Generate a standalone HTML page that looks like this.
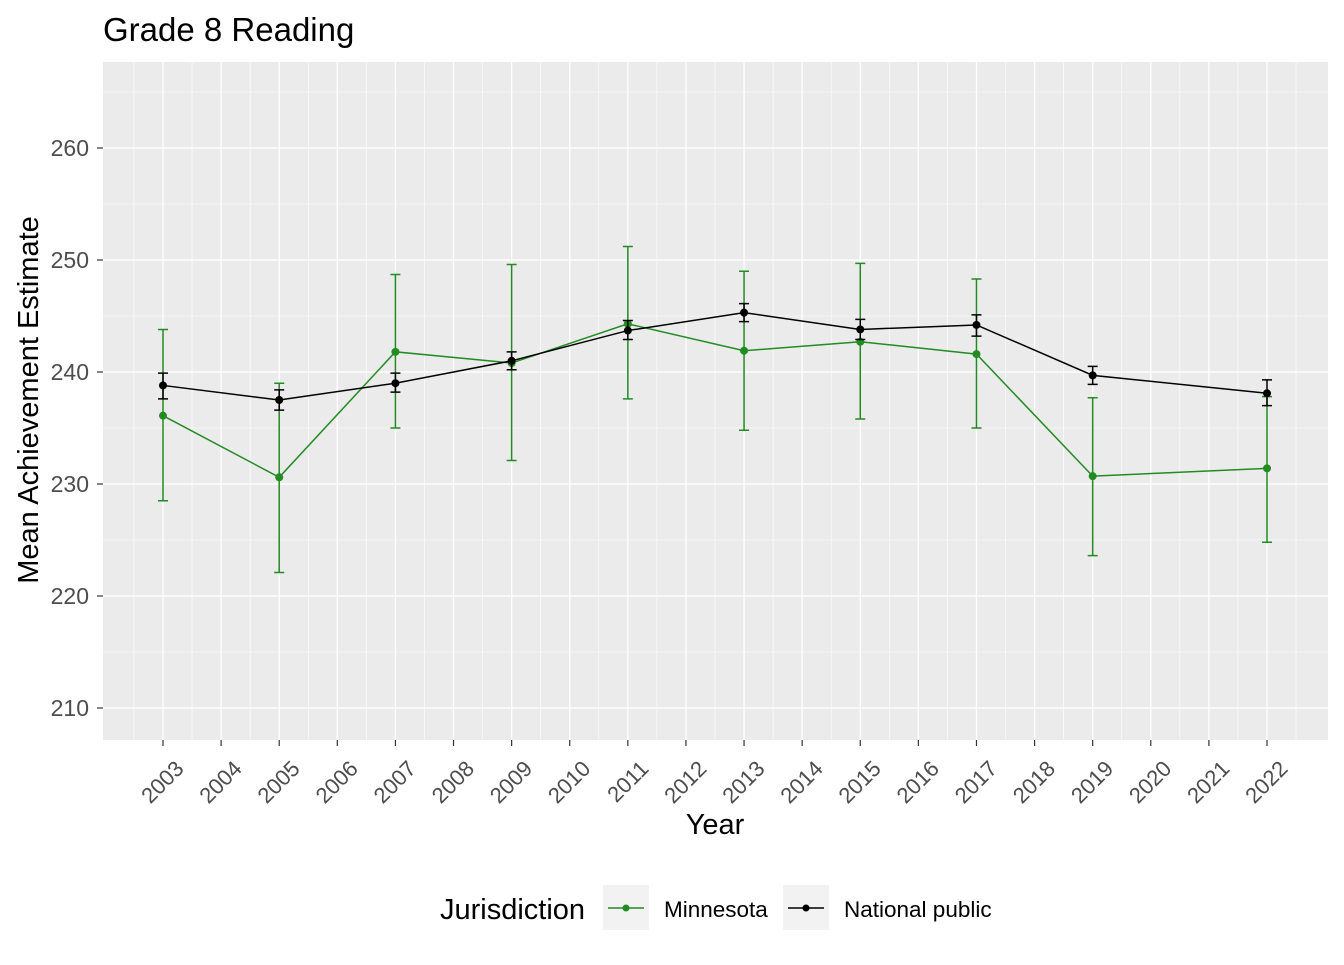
<!DOCTYPE html>
<html><head><meta charset="utf-8"><style>
body{margin:0;background:#fff;font-family:"Liberation Sans",Arial,sans-serif}
</style></head><body>
<svg id="chart" width="1344" height="960" xmlns="http://www.w3.org/2000/svg">
<text x="103" y="41" font-size="33" fill="#000">Grade 8 Reading</text>
<rect x="103" y="62" width="1225" height="678" fill="#EBEBEB"/>
<g id="grid"></g><g id="axes"></g><g id="series"></g>
<text x="715" y="834" font-size="29" text-anchor="middle">Year</text>
<text transform="translate(38,400) rotate(-90)" font-size="29" text-anchor="middle">Mean Achievement Estimate</text>
<g>
<text x="440" y="919" font-size="29">Jurisdiction</text>
<g>
<rect x="603" y="885" width="46" height="45" fill="#F2F2F2"/>
<line x1="608" y1="908" x2="644" y2="908" stroke="#228B22" stroke-width="1.5"/>
<circle cx="626" cy="908" r="3.5" fill="#228B22"/>
<text x="664" y="917" font-size="22.5">Minnesota</text></g>
<g>
<rect x="783" y="885" width="46" height="45" fill="#F2F2F2"/>
<line x1="788" y1="908" x2="824" y2="908" stroke="#000" stroke-width="1.5"/>
<circle cx="806" cy="908" r="3.5" fill="#000"/>
<text x="844" y="917" font-size="22.5">National public</text></g>
</g>
</svg>
<script>
const years=[2003,2005,2007,2009,2011,2013,2015,2017,2019,2022];
const mnMean=[236.1,230.6,241.8,240.8,244.3,241.9,242.7,241.6,230.7,231.4];
const mnLow=[228.5,222.1,235.0,232.1,237.6,234.8,235.8,235.0,223.6,224.8];
const mnHigh=[243.8,239.0,248.7,249.6,251.2,249.0,249.7,248.3,237.7,237.8];
const npMean=[238.8,237.5,239.0,241.0,243.7,245.3,243.8,244.2,239.7,238.1];
const npLow=[237.6,236.6,238.2,240.2,242.9,244.5,242.9,243.2,238.9,237.0];
const npHigh=[239.9,238.4,239.9,241.8,244.6,246.1,244.7,245.1,240.5,239.3];
const yTicks=[210,220,230,240,250,260];
const xTicks=[2003,2004,2005,2006,2007,2008,2009,2010,2011,2012,2013,2014,2015,2016,2017,2018,2019,2020,2021,2022];
const NS='http://www.w3.org/2000/svg';
const X=v=>163+(v-2003)*(1267-163)/19;
const Y=v=>148+(260-v)*11.2;
function mk(p,t,a){const e=document.createElementNS(NS,t);for(const k in a)e.setAttribute(k,a[k]);p.appendChild(e);return e;}
const grid=document.getElementById('grid'),axes=document.getElementById('axes'),ser=document.getElementById('series');
for(let v=215;v<=265;v+=10){const l=mk(grid,'line',{x1:103,x2:1328,y1:Y(v),y2:Y(v),stroke:'#fff','stroke-width':0.6});

}
for(let i=0;i<=xTicks.length;i++){const xv=xTicks[0]-0.5+i;const l=mk(grid,'line',{x1:X(xv),x2:X(xv),y1:62,y2:740,stroke:'#fff','stroke-width':0.6});

}
yTicks.forEach(v=>{const l=mk(grid,'line',{x1:103,x2:1328,y1:Y(v),y2:Y(v),stroke:'#fff','stroke-width':1.3});


mk(axes,'line',{x1:97,x2:103,y1:Y(v),y2:Y(v),stroke:'#333','stroke-width':1.2});
const t=mk(axes,'text',{x:89,y:Y(v)+8,'font-size':23,fill:'#4D4D4D','text-anchor':'end'});t.textContent=v;

});
xTicks.forEach(v=>{const l=mk(grid,'line',{x1:X(v),x2:X(v),y1:62,y2:740,stroke:'#fff','stroke-width':1.3});


mk(axes,'line',{x1:X(v),x2:X(v),y1:740,y2:746,stroke:'#333','stroke-width':1.2});
const t=mk(axes,'text',{transform:`translate(${X(v)+22},${770}) rotate(-45)`,'font-size':22,fill:'#4D4D4D','text-anchor':'end'});t.textContent=v;

});
function draw(mean,lo,hi,col,name){
const g=mk(ser,'g',{});


const pl=mk(g,'polyline',{points:years.map((y,i)=>X(y)+','+Y(mean[i])).join(' '),fill:'none',stroke:col,'stroke-width':1.5});


years.forEach((y,i)=>{const x=X(y);
const e=mk(g,'path',{d:`M${x-5},${Y(hi[i])}H${x+5}M${x},${Y(hi[i])}V${Y(lo[i])}M${x-5},${Y(lo[i])}H${x+5}`,stroke:col,'stroke-width':1.5,fill:'none'});


const c=mk(g,'circle',{cx:x,cy:Y(mean[i]),r:4,fill:col});

});}
draw(mnMean,mnLow,mnHigh,'#228B22','minnesota');
draw(npMean,npLow,npHigh,'#000','national-public');
</script>
</body></html>
